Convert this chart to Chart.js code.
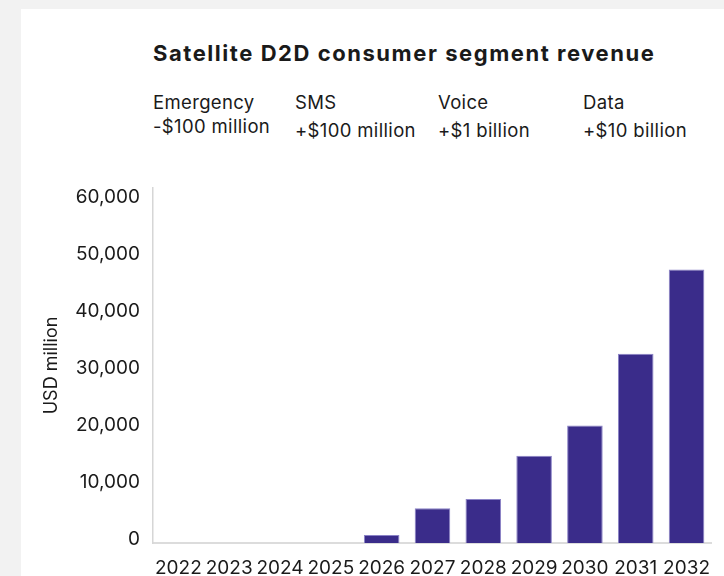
<!DOCTYPE html>
<html>
<head>
<meta charset="utf-8">
<script src="https://cdn.jsdelivr.net/npm/chart.js@4.4.1/dist/chart.umd.min.js"></script>
<style>
  html, body { margin: 0; padding: 0; }
  body { width: 724px; height: 576px; overflow: hidden; background: #f2f2f2; position: relative; font-family: Inter, sans-serif; color: #1a1a1a; }
  .card { position: absolute; left: 21px; top: 9px; right: 0; bottom: 0; background: #fff; }
  .txt { position: absolute; white-space: nowrap; line-height: 1; }
  .title { left: 153px; top: 42px; font-size: 22px; font-weight: 700; letter-spacing: 1.55px; }
  .hd { font-size: 18.5px; letter-spacing: 0.35px; }
  #chart { position: absolute; left: 0; top: 0; }
</style>
</head>
<body>
<div class="card"></div>
<div class="txt title">Satellite D2D consumer segment revenue</div>
<div class="txt hd" style="left:153px;top:93px">Emergency</div>
<div class="txt hd" style="left:153px;top:117px">-$100 million</div>
<div class="txt hd" style="left:295px;top:93px">SMS</div>
<div class="txt hd" style="left:295px;top:121px">+$100 million</div>
<div class="txt hd" style="left:438px;top:93px">Voice</div>
<div class="txt hd" style="left:438px;top:121px">+$1 billion</div>
<div class="txt hd" style="left:583px;top:93px">Data</div>
<div class="txt hd" style="left:583px;top:121px">+$10 billion</div>
<canvas id="chart" width="724" height="576"></canvas>
<script>
// dados (USD milhões)
const anos = ['2022', '2023', '2024', '2025', '2026', '2027', '2028', '2029', '2030', '2031', '2032'];
const receita = [0, 0, 0, 0, 1400, 6100, 7700, 15300, 20600, 33200, 48000];
const yTicks = [0, 10000, 20000, 30000, 40000, 50000, 60000];

const corTexto = '#1a1a1a';
const ctx = document.getElementById('chart').getContext('2d');

new Chart(ctx, {
    type: 'bar',
    data: {
        labels: anos,
        datasets: [{
            label: 'Revenue',
            data: receita,
            backgroundColor: '#3a2c8a',
            borderColor: '#8a82c6',
            borderWidth: 1,
            barPercentage: 0.7,
            categoryPercentage: 1.0,
        }],
    },
    options: {
        responsive: false,
        animation: false,
        devicePixelRatio: 1,
        layout: { padding: { top: 188, right: 0, left: 0, bottom: 0 } },
        plugins: {
            legend: { display: false },
            tooltip: { enabled: false },
        },
        scales: {
            x: {
                grid: { display: false, drawTicks: false },
                border: { color: '#dcdcdc', width: 2 },
                ticks: {
                    color: corTexto,
                    font: { family: 'Inter', size: 19 },
                    padding: 14,
                    maxRotation: 0,
                    autoSkip: false,
                },
                afterFit: s => { s.height = 33; },
            },
            y: {
                min: 0,
                max: 62300,
                grid: { display: false, drawTicks: false },
                border: { color: '#d6d6d6', width: 1.5 },
                afterBuildTicks: s => { s.ticks = yTicks.map(v => ({ value: v })); },
                ticks: {
                    includeBounds: false,
                    color: corTexto,
                    font: { family: 'Inter', size: 19 },
                    padding: 13,
                    labelOffset: -4,
                    callback: v => v.toLocaleString('en-US'),
                },
                title: {
                    display: true,
                    text: 'USD million',
                    color: corTexto,
                    font: { family: 'Inter', size: 18 },
                    padding: { top: 41, bottom: 0 },
                },
                afterFit: s => { s.width = 153; },
            },
        },
    },
});
</script>
</body>
</html>
